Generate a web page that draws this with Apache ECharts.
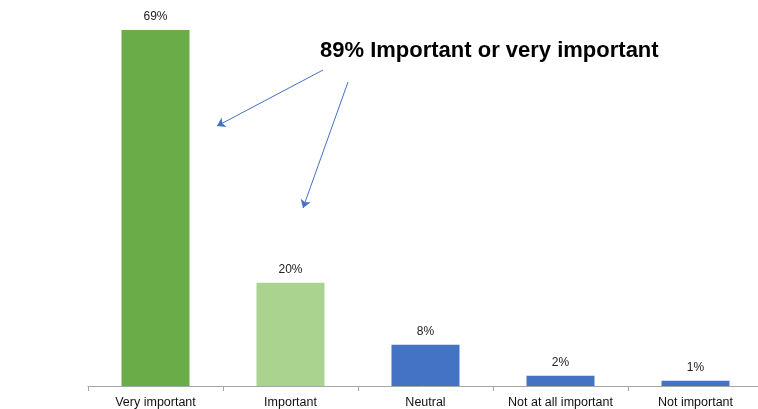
<!DOCTYPE html>
<html>
<head>
<meta charset="utf-8">
<script src="https://cdn.jsdelivr.net/npm/echarts@6/dist/echarts.min.js"></script>
<style>html,body{margin:0;padding:0;background:#fff}#c{width:758px;height:409px}</style>
</head>
<body>
<div id="c"></div>
<script>
const categories = ["Very important", "Important", "Neutral", "Not at all important", "Not important"];
const values = [69, 20, 8, 2, 1];
const barColors = ["#6AAD48", "#A9D38F", "#4472C4", "#4472C4", "#4472C4"];
const annotationText = "89% Important or very important";

const chart = echarts.init(document.getElementById('c'));
chart.setOption({
  animation: false,
  backgroundColor: '#ffffff',
  grid: { left: 88, width: 675, top: 30, bottom: 23, containLabel: false, outerBoundsMode: 'none' },
  xAxis: {
    type: 'category',
    data: categories,
    boundaryGap: true,
    axisLine: { lineStyle: { color: '#a6a6a6', width: 1 } },
    axisTick: { show: true, length: 5, lineStyle: { color: '#a6a6a6' } },
    axisLabel: { color: '#111', fontSize: 12.5, fontFamily: 'Liberation Sans, Arial, sans-serif', margin: 10, interval: 0 }
  },
  yAxis: {
    type: 'value', min: 0, max: 69,
    show: false,
    splitLine: { show: false }
  },
  series: [{
    type: 'bar',
    barWidth: 68,
    data: values.map((v, i) => ({ value: v, itemStyle: { color: barColors[i] } })),
    label: {
      show: true, position: 'top', distance: 7,
      formatter: p => p.value + '%',
      color: '#222', fontSize: 12, fontFamily: 'Liberation Sans, Arial, sans-serif'
    },
    markLine: {
      silent: true,
      symbol: ['none', 'arrow'],
      symbolSize: 8,
      label: { show: false },
      lineStyle: { color: '#4472C4', width: 1, type: 'solid' },
      data: [
        [{ x: 323, y: 70 }, { x: 217, y: 126 }],
        [{ x: 348, y: 82 }, { x: 303, y: 208 }]
      ]
    }
  }],
  graphic: [{
    type: 'text',
    left: 320, top: 40,
    style: {
      text: annotationText,
      fill: '#000',
      font: 'bold 22px "Liberation Sans", Arial, sans-serif'
    }
  }]
});
</script>
</body>
</html>
